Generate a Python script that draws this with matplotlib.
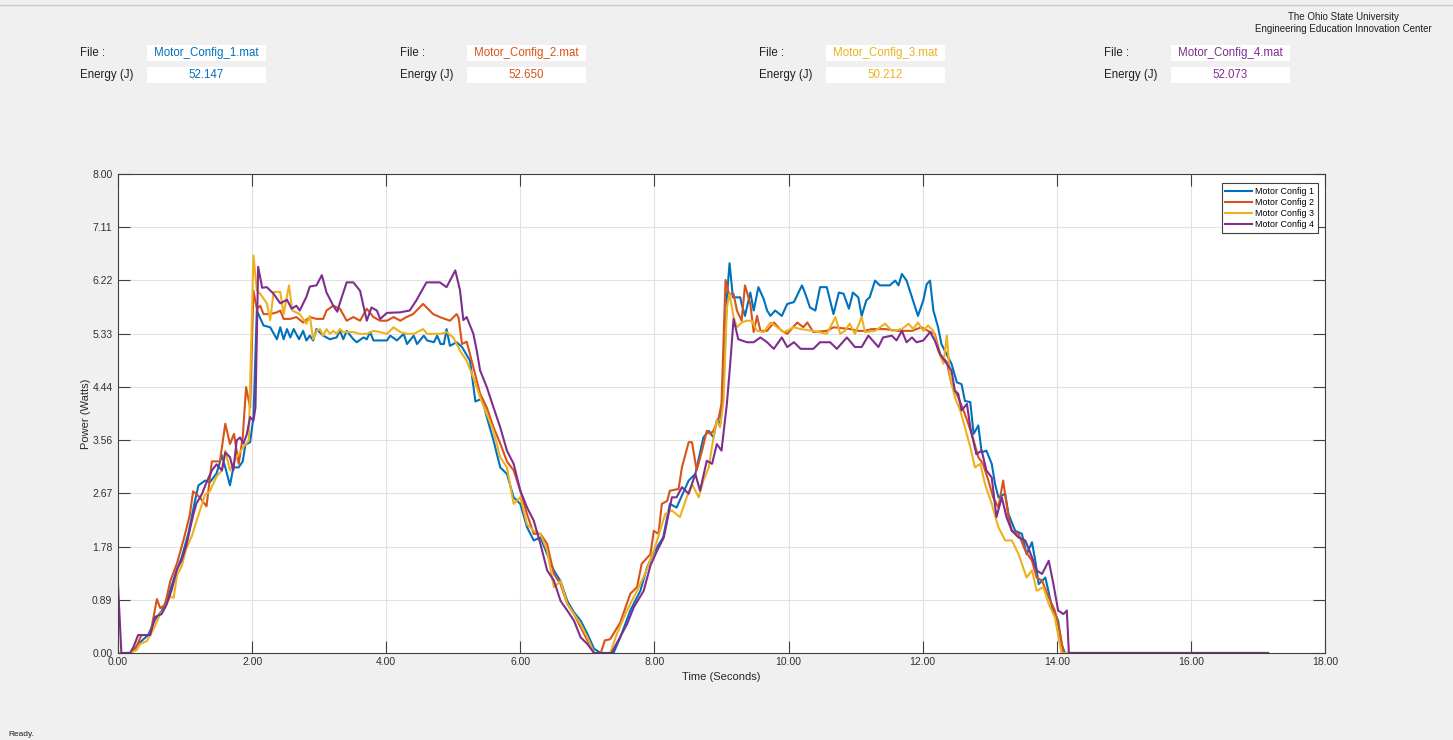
import numpy as np
import matplotlib.pyplot as plt
from matplotlib.patches import Rectangle

plt.rcParams['font.family'] = ['Liberation Sans', 'DejaVu Sans']

# %%
# Power traces (time in s, power in W)
t1 = [0.00, 0.20, 0.30, 0.45, 0.55, 0.65, 0.75, 0.85, 0.95, 1.05, 1.15, 1.20, 1.30, 1.37, 1.47,
      1.55, 1.60, 1.67, 1.72, 1.80, 1.86, 1.90, 1.97, 2.02, 2.07, 2.17, 2.27, 2.37, 2.42, 2.47,
      2.52, 2.57, 2.62, 2.70, 2.76, 2.81, 2.86, 2.91, 2.96, 3.06, 3.16, 3.26, 3.31, 3.36, 3.41,
      3.51, 3.56, 3.66, 3.71, 3.76, 3.81, 3.91, 4.01, 4.06, 4.16, 4.26, 4.31, 4.41, 4.46, 4.56,
      4.61, 4.71, 4.76, 4.81, 4.86, 4.90, 4.95, 5.05, 5.13, 5.25, 5.33, 5.43, 5.50, 5.60, 5.70,
      5.80, 5.90, 6.00, 6.10, 6.20, 6.30, 6.40, 6.50, 6.60, 6.70, 6.80, 6.90, 7.00, 7.10, 7.20,
      7.39, 7.49, 7.64, 7.79, 7.89, 7.99, 8.13, 8.23, 8.33, 8.51, 8.61, 8.73, 8.81, 8.88, 8.93,
      8.98, 9.03, 9.08, 9.12, 9.17, 9.28, 9.30, 9.35, 9.43, 9.48, 9.55, 9.63, 9.68, 9.73, 9.80,
      9.90, 9.98, 10.08, 10.20, 10.25, 10.32, 10.40, 10.47, 10.57, 10.67, 10.75, 10.82, 10.90,
      10.96, 11.04, 11.09, 11.16, 11.21, 11.29, 11.36, 11.51, 11.59, 11.64, 11.69, 11.76, 11.84,
      11.93, 12.01, 12.06, 12.11, 12.16, 12.23, 12.28, 12.33, 12.43, 12.51, 12.58, 12.63, 12.71,
      12.76, 12.83, 12.88, 12.95, 13.03, 13.08, 13.13, 13.23, 13.28, 13.38, 13.48, 13.55, 13.63,
      13.68, 13.73, 13.83, 13.93, 14.02, 14.07, 14.12, 17.15]
p1 = [0.00, 0.00, 0.15, 0.30, 0.55, 0.70, 0.95, 1.30, 1.60, 2.00, 2.55, 2.80, 2.88, 2.85, 3.00,
      3.30, 3.10, 2.80, 3.10, 3.10, 3.20, 3.48, 3.52, 3.94, 5.72, 5.47, 5.44, 5.24, 5.44, 5.24,
      5.41, 5.27, 5.41, 5.24, 5.38, 5.22, 5.30, 5.22, 5.41, 5.30, 5.24, 5.27, 5.38, 5.24, 5.38,
      5.24, 5.19, 5.27, 5.24, 5.36, 5.22, 5.22, 5.22, 5.30, 5.22, 5.33, 5.16, 5.30, 5.16, 5.30,
      5.22, 5.19, 5.30, 5.16, 5.16, 5.41, 5.13, 5.19, 5.11, 4.88, 4.20, 4.25, 3.94, 3.55, 3.10,
      2.99, 2.60, 2.49, 2.10, 1.88, 1.93, 1.65, 1.38, 1.20, 0.87, 0.68, 0.54, 0.32, 0.07, 0.00,
      0.00, 0.26, 0.71, 1.04, 1.43, 1.68, 1.93, 2.49, 2.43, 2.88, 2.99, 3.60, 3.71, 3.60, 3.88,
      3.83, 4.49, 5.94, 6.51, 5.94, 5.94, 5.83, 5.63, 6.02, 5.72, 6.11, 5.91, 5.72, 5.63, 5.72,
      5.63, 5.83, 5.86, 6.14, 6.00, 5.77, 5.72, 6.11, 6.11, 5.66, 6.02, 6.00, 5.75,
      6.02, 5.94, 5.63, 5.89, 5.94, 6.22, 6.14, 6.14, 6.22, 6.14, 6.33, 6.22, 5.94,
      5.63, 5.89, 6.16, 6.22, 5.72, 5.44, 5.16, 5.05, 4.83, 4.52, 4.49, 4.21, 4.19,
      3.66, 3.80, 3.35, 3.38, 3.16, 2.82, 2.60, 2.66, 2.32, 2.04, 1.99, 1.65, 1.85,
      1.54, 1.15, 1.26, 0.76, 0.54, 0.15, 0.00, 0.00]

t2 = [0.00, 0.08, 0.18, 0.25, 0.35, 0.48, 0.58, 0.63, 0.70, 0.78, 0.88, 0.98, 1.07, 1.12, 1.22,
      1.32, 1.40, 1.52, 1.60, 1.67, 1.73, 1.80, 1.86, 1.91, 1.97, 2.02, 2.07, 2.12, 2.17, 2.27,
      2.37, 2.42, 2.47, 2.57, 2.66, 2.76, 2.86, 2.96, 3.06, 3.11, 3.21, 3.31, 3.41, 3.51, 3.61,
      3.71, 3.81, 3.91, 4.01, 4.11, 4.21, 4.30, 4.40, 4.55, 4.70, 4.80, 4.95, 5.05, 5.08, 5.13,
      5.20, 5.30, 5.40, 5.50, 5.60, 5.70, 5.80, 5.90, 6.00, 6.10, 6.20, 6.30, 6.40, 6.50, 6.60,
      6.70, 6.80, 6.90, 7.00, 7.10, 7.20, 7.26, 7.34, 7.49, 7.64, 7.74, 7.81, 7.94, 7.99, 8.06,
      8.11, 8.19, 8.23, 8.36, 8.41, 8.51, 8.56, 8.63, 8.71, 8.78, 8.83, 8.88, 8.96, 9.00, 9.06,
      9.11, 9.18, 9.23, 9.30, 9.35, 9.43, 9.48, 9.53, 9.58, 9.68, 9.78, 9.90, 9.98, 10.13, 10.22,
      10.28, 10.37, 10.57, 10.67, 10.92, 11.04, 11.14, 11.24, 11.44, 11.64, 11.84, 11.98, 12.08,
      12.18, 12.26, 12.36, 12.43, 12.53, 12.61, 12.68, 12.76, 12.83, 12.90, 12.98, 13.05, 13.13,
      13.20, 13.28, 13.33, 13.43, 13.53, 13.63, 13.70, 13.78, 13.88, 13.97, 14.05, 14.10, 17.15]
p2 = [0.00, 0.00, 0.00, 0.05, 0.30, 0.30, 0.90, 0.75, 0.80, 1.20, 1.50, 1.90, 2.30, 2.70, 2.60,
      2.45, 3.20, 3.20, 3.83, 3.49, 3.66, 3.16, 3.60, 4.44, 4.10, 6.05, 5.75, 5.80, 5.66, 5.66,
      5.69, 5.72, 5.58, 5.58, 5.61, 5.52, 5.61, 5.58, 5.58, 5.72, 5.80, 5.75, 5.55, 5.61, 5.55,
      5.75, 5.61, 5.55, 5.55, 5.61, 5.55, 5.61, 5.66, 5.83, 5.66, 5.61, 5.55, 5.66, 5.60, 5.16,
      5.20, 4.77, 4.33, 4.10, 3.77, 3.50, 3.20, 3.05, 2.71, 2.32, 1.99, 1.99, 1.82, 1.32, 1.15,
      0.82, 0.65, 0.43, 0.21, 0.00, 0.00, 0.21, 0.23, 0.51, 0.99, 1.10, 1.49, 1.65, 2.04, 1.99,
      2.49, 2.54, 2.71, 2.74, 3.10, 3.52, 3.52, 3.05, 3.38, 3.71, 3.66, 3.71, 3.94, 4.16, 6.23,
      6.00, 6.00, 5.72, 5.55, 6.14, 5.83, 5.36, 5.63, 5.38, 5.38, 5.52, 5.38, 5.33, 5.52, 5.44,
      5.52, 5.36, 5.38, 5.44, 5.41, 5.38, 5.38, 5.41, 5.41, 5.38, 5.38, 5.44, 5.38,
      5.33, 4.99, 4.86, 4.49, 4.27, 4.05, 3.83, 3.55, 3.27, 3.16, 2.88, 2.60, 2.43,
      2.88, 2.27, 2.04, 1.99, 1.71, 1.54, 1.26, 1.21, 0.93, 0.71, 0.32, 0.00, 0.00]

t3 = [0.00, 0.18, 0.28, 0.33, 0.43, 0.53, 0.63, 0.70, 0.78, 0.83, 0.88, 0.95, 1.02, 1.10, 1.17,
      1.30, 1.37, 1.47, 1.55, 1.60, 1.67, 1.77, 1.87, 1.95, 2.02, 2.07, 2.12, 2.22, 2.27, 2.32,
      2.42, 2.47, 2.55, 2.60, 2.71, 2.81, 2.86, 2.91, 2.96, 3.01, 3.06, 3.11, 3.16, 3.21, 3.26,
      3.31, 3.36, 3.51, 3.61, 3.71, 3.81, 3.91, 4.01, 4.11, 4.21, 4.31, 4.41, 4.55, 4.61, 4.71,
      4.81, 4.90, 5.00, 5.10, 5.20, 5.30, 5.40, 5.50, 5.60, 5.70, 5.80, 5.90, 6.00, 6.10, 6.20,
      6.30, 6.40, 6.50, 6.60, 6.70, 6.80, 6.90, 7.00, 7.10, 7.34, 7.44, 7.59, 7.74, 7.86, 8.01,
      8.16, 8.26, 8.38, 8.48, 8.56, 8.66, 8.73, 8.81, 8.88, 8.93, 8.98, 9.03, 9.08, 9.12, 9.18,
      9.23, 9.30, 9.38, 9.45, 9.53, 9.63, 9.73, 9.83, 9.93, 10.08, 10.18, 10.37, 10.57, 10.70,
      10.77, 10.84, 10.91, 10.99, 11.09, 11.14, 11.29, 11.44, 11.54, 11.69, 11.79, 11.86, 11.93,
      12.01, 12.08, 12.16, 12.23, 12.31, 12.36, 12.41, 12.48, 12.56, 12.63, 12.71, 12.78, 12.86,
      12.93, 13.03, 13.13, 13.23, 13.33, 13.43, 13.55, 13.63, 13.70, 13.80, 13.88, 13.97, 14.07,
      17.15]
p3 = [0.00, 0.00, 0.05, 0.15, 0.20, 0.40, 0.65, 0.75, 0.95, 0.92, 1.30, 1.45, 1.75, 1.95, 2.20,
      2.65, 2.70, 2.95, 3.05, 3.38, 3.05, 3.27, 3.44, 3.55, 6.64, 6.06, 6.00, 5.84, 5.56, 6.03,
      6.03, 5.66, 6.14, 5.72, 5.66, 5.50, 5.63, 5.24, 5.38, 5.41, 5.30, 5.41, 5.33, 5.38, 5.33,
      5.41, 5.36, 5.36, 5.33, 5.33, 5.38, 5.36, 5.33, 5.44, 5.36, 5.33, 5.33, 5.41, 5.33, 5.33,
      5.33, 5.36, 5.27, 5.05, 4.88, 4.60, 4.27, 3.99, 3.71, 3.27, 3.10, 2.49, 2.60, 2.15, 2.04,
      1.99, 1.71, 1.10, 1.20, 0.82, 0.65, 0.48, 0.26, 0.00, 0.00, 0.32, 0.71, 1.04, 1.32, 1.77,
      2.32, 2.38, 2.27, 2.60, 2.82, 2.60, 2.88, 3.10, 3.60, 3.88, 3.77, 4.21, 5.77, 6.00, 5.61,
      5.44, 5.52, 5.55, 5.55, 5.38, 5.36, 5.52, 5.44, 5.36, 5.44, 5.41, 5.38, 5.33, 5.61,
      5.33, 5.38, 5.50, 5.33, 5.61, 5.36, 5.38, 5.50, 5.38, 5.41, 5.50, 5.41, 5.52,
      5.38, 5.47, 5.38, 5.05, 4.83, 5.30, 4.60, 4.27, 4.05, 3.77, 3.44, 3.10, 3.16,
      2.82, 2.49, 2.10, 1.88, 1.88, 1.65, 1.26, 1.38, 1.04, 1.10, 0.82, 0.60, 0.00,
      0.00]

t4 = [0.00, 0.05, 0.18, 0.23, 0.30, 0.40, 0.48, 0.55, 0.65, 0.72, 0.80, 0.88, 0.95, 1.02, 1.12,
      1.17, 1.25, 1.32, 1.40, 1.47, 1.55, 1.60, 1.67, 1.72, 1.77, 1.82, 1.87, 1.92, 1.97, 2.02,
      2.05, 2.09, 2.15, 2.22, 2.32, 2.42, 2.52, 2.59, 2.66, 2.71, 2.81, 2.86, 2.96, 3.04, 3.11,
      3.21, 3.27, 3.31, 3.41, 3.51, 3.61, 3.71, 3.78, 3.86, 3.91, 4.01, 4.21, 4.35, 4.45, 4.60,
      4.80, 4.90, 5.03, 5.10, 5.15, 5.20, 5.30, 5.35, 5.40, 5.50, 5.60, 5.70, 5.80, 5.90, 6.00,
      6.10, 6.20, 6.30, 6.40, 6.50, 6.60, 6.70, 6.80, 6.90, 7.00, 7.10, 7.36, 7.46, 7.59, 7.69,
      7.84, 7.94, 8.04, 8.14, 8.26, 8.33, 8.41, 8.51, 8.61, 8.68, 8.78, 8.86, 8.93, 9.00, 9.08,
      9.13, 9.18, 9.25, 9.38, 9.48, 9.58, 9.68, 9.78, 9.90, 9.98, 10.08, 10.18, 10.37, 10.47,
      10.62, 10.72, 10.87, 10.99, 11.09, 11.19, 11.34, 11.41, 11.54, 11.61, 11.69, 11.76, 11.84,
      11.91, 12.01, 12.11, 12.18, 12.26, 12.33, 12.43, 12.48, 12.53, 12.58, 12.66, 12.71, 12.80,
      12.88, 12.95, 13.03, 13.10, 13.18, 13.25, 13.33, 13.43, 13.53, 13.63, 13.70, 13.78, 13.88,
      13.95, 14.02, 14.10, 14.15, 14.18, 17.15]
p4 = [1.15, 0.00, 0.00, 0.10, 0.30, 0.30, 0.30, 0.60, 0.65, 0.80, 1.05, 1.40, 1.55, 1.80, 2.30,
      2.50, 2.65, 2.85, 3.05, 3.15, 3.05, 3.35, 3.27, 3.05, 3.55, 3.60, 3.50, 3.65, 3.94, 3.88,
      4.10, 6.45, 6.10, 6.11, 6.00, 5.84, 5.90, 5.75, 5.80, 5.72, 5.95, 6.12, 6.14, 6.31, 6.02,
      5.80, 5.70, 5.85, 6.19, 6.19, 6.05, 5.55, 5.77, 5.72, 5.58, 5.68, 5.69, 5.72, 5.89, 6.19,
      6.19, 6.11, 6.39, 6.06, 5.56, 5.61, 5.33, 5.05, 4.72, 4.44, 4.10, 3.77, 3.38, 3.16, 2.71,
      2.43, 2.21, 1.82, 1.38, 1.21, 0.87, 0.71, 0.54, 0.26, 0.15, 0.00, 0.00, 0.21, 0.48, 0.76,
      1.04, 1.46, 1.71, 1.93, 2.60, 2.60, 2.77, 2.66, 2.99, 2.71, 3.21, 3.16, 3.49, 3.38, 4.16,
      4.83, 5.58, 5.24, 5.19, 5.19, 5.27, 5.19, 5.08, 5.27, 5.11, 5.19, 5.08, 5.08, 5.19,
      5.19, 5.08, 5.27, 5.11, 5.11, 5.30, 5.11, 5.27, 5.30, 5.22, 5.38, 5.19, 5.27,
      5.19, 5.22, 5.36, 5.22, 4.99, 4.88, 4.72, 4.38, 4.33, 4.05, 4.16, 3.77, 3.32,
      3.38, 3.05, 2.93, 2.27, 2.60, 2.27, 2.04, 1.93, 1.88, 1.60, 1.38, 1.32, 1.54,
      1.15, 0.71, 0.65, 0.71, 0.00, 0.00]

files = ['Motor_Config_1.mat', 'Motor_Config_2.mat', 'Motor_Config_3.mat', 'Motor_Config_4.mat']
energy = ['52.147', '52.650', '50.212', '52.073']
labels = ['Motor Config 1', 'Motor Config 2', 'Motor Config 3', 'Motor Config 4']
colors = ['#0072BD', '#D95319', '#EDB120', '#7E2F8E']

# %%
W, H = 1453, 740
fig = plt.figure(figsize=(W/100, H/100), dpi=100, facecolor='#f0f0f0')

def fx(x):
    return x/W

def fy(y):
    return 1 - y/H

# thin frame line at the very top of the window
fig.add_artist(plt.Line2D([0, 1], [fy(5), fy(5)], color='#c8c8c8', linewidth=1))

fig.text(fx(1343), fy(17), 'The Ohio State University', ha='center', va='center', fontsize=7, color='#202020')
fig.text(fx(1343), fy(29), 'Engineering Education Innovation Center', ha='center', va='center', fontsize=7, color='#202020')

label_x = [80, 400, 759, 1104]
box_x = [147, 467, 826, 1171]
for i in range(4):
    fig.text(fx(label_x[i]), fy(53), 'File :', ha='left', va='center', fontsize=8.3, color='#202020')
    fig.text(fx(label_x[i]), fy(75), 'Energy (J)', ha='left', va='center', fontsize=8.3, color='#202020')
    for yy in (45, 67):
        fig.add_artist(Rectangle((fx(box_x[i]), fy(yy + 16)), 119/W, 16/H,
                                 transform=fig.transFigure, facecolor='white', edgecolor='none'))
    fig.text(fx(box_x[i] + 59.5), fy(53), files[i], ha='center', va='center', fontsize=8.3, color=colors[i])
    fig.text(fx(box_x[i] + 59.5), fy(75), energy[i], ha='center', va='center', fontsize=8.3, color=colors[i])

fig.text(fx(8), fy(735), 'Ready.', ha='left', va='center', fontsize=6, color='#202020')

# %%
ax = fig.add_axes([fx(118), fy(653), (1325 - 118)/W, (653 - 174)/H])
ax.set_facecolor('white')

ax.plot(t1, p1, color=colors[0], linewidth=1.5, label=labels[0])
ax.plot(t2, p2, color=colors[1], linewidth=1.5, label=labels[1])
ax.plot(t3, p3, color=colors[2], linewidth=1.5, label=labels[2])
ax.plot(t4, p4, color=colors[3], linewidth=1.5, label=labels[3])

ax.set_xlim(0, 18)
ax.set_ylim(0, 8)
yt = np.linspace(0, 8, 10)
ax.set_yticks(yt)
ax.set_yticklabels(['%.2f' % v for v in yt])
xt = np.arange(0, 19, 2)
ax.set_xticks(xt)
ax.set_xticklabels(['%.2f' % v for v in xt])
ax.tick_params(direction='in', length=8.5, width=0.8, colors='#404040', labelcolor='#303030',
               labelsize=7.5, top=True, right=True)
ax.tick_params(axis='y', pad=4)
ax.tick_params(axis='x', pad=3)
ax.grid(True, color='#e2e2e2', linewidth=0.8)
ax.set_axisbelow(True)
for s in ax.spines.values():
    s.set_color('#404040')
    s.set_linewidth(0.8)

ax.set_xlabel('Time (Seconds)', fontsize=8, color='#262626')
ax.set_ylabel('Power (Watts)', fontsize=8, color='#262626')
ax.xaxis.set_label_coords(0.5, -0.039)
ax.yaxis.set_label_coords(-0.022, 0.5)

leg = ax.legend(loc='upper right', bbox_to_anchor=(0.9942, 0.981), fontsize=6.4, frameon=True,
                fancybox=False, edgecolor='#404040', framealpha=1, borderaxespad=0,
                handlelength=3.0, handletextpad=0.4, labelspacing=0.25, borderpad=0.4)
leg.get_frame().set_linewidth(0.8)

plt.savefig('out.png', dpi=100, facecolor=fig.get_facecolor())
